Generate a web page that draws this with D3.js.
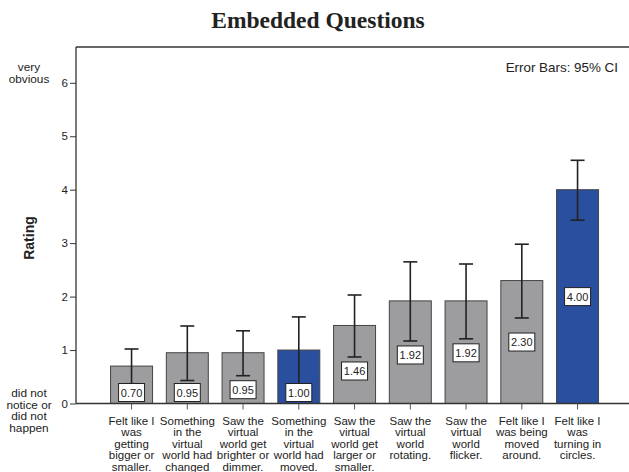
<!DOCTYPE html>
<html>
<head>
<meta charset="utf-8">
<script src="https://d3js.org/d3.v7.min.js"></script>
<style>
    body { margin: 0; background: white; }
    svg { display: block; font-family: "Liberation Sans", Arial, sans-serif; }
</style>
</head>
<body>
<svg id="chart"></svg>
<script>
    // data
    const questions = [
        "Felt like I|was|getting|bigger or|smaller.",
        "Something|in the|virtual|world had|changed",
        "Saw the|virtual|world get|brighter or|dimmer.",
        "Something|in the|virtual|world had|moved.",
        "Saw the|virtual|world get|larger or|smaller.",
        "Saw the|virtual|world|rotating.",
        "Saw the|virtual|world|flicker.",
        "Felt like I|was being|moved|around.",
        "Felt like I|was|turning in|circles."
    ]
    const means = [0.70, 0.95, 0.95, 1.00, 1.46, 1.92, 1.92, 2.30, 4.00]
    const ciLow = [0.37, 0.43, 0.52, 0.36, 0.87, 1.17, 1.21, 1.60, 3.43]
    const ciHigh = [1.02, 1.45, 1.36, 1.62, 2.03, 2.65, 2.61, 2.98, 4.55]
    const highlighted = [false, false, false, true, false, false, false, false, true]
    const yTicks = [0, 1, 2, 3, 4, 5, 6]

    let width = 629,
        height = 472

    let svg = d3.select("#chart")
        .attr("width", width)
        .attr("height", height)

    let plotLeft = 76, plotTop = 47, plotBottom = 403.5
    let step = 55.75

    let x = d3.scaleBand()
        .domain(d3.range(means.length))
        .range([plotLeft, plotLeft + step * (9 - 0.247 + 2 * 0.62)])
        .paddingInner(0.247)
        .paddingOuter(0.62)

    let y = d3.scaleLinear()
        .domain([0, 6])
        .range([plotBottom, plotBottom - 6 * 53.45])

    let ink = "#222"

    // title
    svg.append("text")
        .attr("x", 318)
        .attr("y", 28)
        .attr("text-anchor", "middle")
        .style("font-family", "'Liberation Serif', 'Times New Roman', serif")
        .style("font-weight", "bold")
        .style("font-size", "23.5px")
        .attr("fill", ink)
        .text("Embedded Questions")

    // bars
    svg.append("g").selectAll("rect")
        .data(means)
        .enter()
        .append("rect")
        .attr("x", (d, i) => x(i))
        .attr("y", d => y(d))
        .attr("width", x.bandwidth())
        .attr("height", d => y(0) - y(d))
        .attr("fill", (d, i) => highlighted[i] ? "#2b4f9f" : "#9d9da0")
        .attr("stroke", "#444")
        .attr("stroke-width", 1)

    // error bars
    let err = svg.append("g").attr("stroke", ink).attr("stroke-width", 1.6)
    means.forEach((m, i) => {
        let cx = x(i) + x.bandwidth() / 2
        err.append("line").attr("x1", cx).attr("x2", cx).attr("y1", y(ciLow[i])).attr("y2", y(ciHigh[i]))
        err.append("line").attr("x1", cx - 7).attr("x2", cx + 7).attr("y1", y(ciLow[i])).attr("y2", y(ciLow[i]))
        err.append("line").attr("x1", cx - 7).attr("x2", cx + 7).attr("y1", y(ciHigh[i])).attr("y2", y(ciHigh[i]))
    })

    // value labels in boxes
    let labels = svg.append("g")
    means.forEach((m, i) => {
        let cx = x(i) + x.bandwidth() / 2
        let cy = Math.max(y(m / 2), y(ciLow[i]) + 14)
        cy = Math.min(cy, y(0) - 11)
        labels.append("rect")
            .attr("x", cx - 13)
            .attr("y", cy - 9)
            .attr("width", 26)
            .attr("height", 18)
            .attr("fill", "white")
            .attr("stroke", ink)
            .attr("stroke-width", 1)
        labels.append("text")
            .attr("x", cx)
            .attr("y", cy + 4)
            .attr("text-anchor", "middle")
            .style("font-size", "11px")
            .attr("fill", ink)
            .text(m.toFixed(2))
    })

    // frame: left, top, bottom
    let frame = svg.append("g").attr("stroke", "#333").attr("stroke-width", 1.3)
    frame.append("line").attr("x1", plotLeft).attr("x2", width).attr("y1", plotTop).attr("y2", plotTop)
    frame.append("line").attr("x1", plotLeft).attr("x2", plotLeft).attr("y1", plotTop).attr("y2", plotBottom)

    // y axis
    let yAxis = svg.append("g")
        .attr("transform", "translate(" + plotLeft + ",0)")
        .call(d3.axisLeft(y).tickValues(yTicks).tickSize(6).tickFormat(d3.format("d")))
    yAxis.select(".domain").remove()
    yAxis.selectAll("line").attr("stroke", "#333")
    yAxis.selectAll("text").style("font-size", "11.5px").attr("fill", ink).attr("x", -8)

    // x axis
    let xAxis = svg.append("g")
        .attr("transform", "translate(0," + plotBottom + ")")
        .call(d3.axisBottom(x).tickSize(6).tickFormat(""))
    xAxis.select(".domain").attr("d", "M" + plotLeft + ",0H" + width).attr("stroke", "#333").attr("stroke-width", 1.3)
    xAxis.selectAll(".tick line").attr("stroke", "#555")

    xAxis.selectAll(".tick").each(function (d) {
        let t = d3.select(this).append("text")
            .attr("text-anchor", "middle")
            .style("font-size", "11.5px")
            .attr("fill", ink)
        questions[d].split("|").forEach((line, k) => {
            t.append("tspan").attr("x", 0).attr("y", 21 + k * 11.6).text(line)
        })
    })

    // anchor labels on the y axis
    function multiline(lines, cx, y0) {
        let t = svg.append("text")
            .attr("text-anchor", "middle")
            .style("font-size", "11.8px")
            .attr("fill", ink)
        lines.forEach((line, k) => {
            t.append("tspan").attr("x", cx).attr("y", y0 + k * 11.5).text(line)
        })
    }
    multiline(["very", "obvious"], 29, 71)
    multiline(["did not", "notice or", "did not", "happen"], 29, 397)

    // axis title
    svg.append("text")
        .attr("transform", "translate(34,238) rotate(-90)")
        .attr("text-anchor", "middle")
        .style("font-size", "14px")
        .style("font-weight", "bold")
        .attr("fill", ink)
        .text("Rating")

    svg.append("text")
        .attr("x", 618)
        .attr("y", 72)
        .attr("text-anchor", "end")
        .style("font-size", "13.4px")
        .attr("fill", ink)
        .text("Error Bars: 95% CI")
</script>
</body>
</html>
